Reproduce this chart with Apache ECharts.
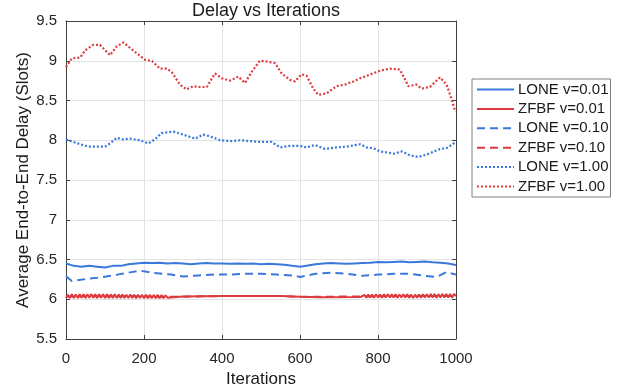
<!DOCTYPE html>
<html>
<head>
<meta charset="utf-8">
<script src="https://cdn.jsdelivr.net/npm/echarts@6/dist/echarts.min.js"></script>
<style>
  html, body { margin: 0; padding: 0; background: #fff; }
  #chart { width: 625px; height: 391px; }
</style>
</head>
<body>
<div id="chart"></div>
<script>
// iterations / values
const loneSolidIter = [0, 20, 40, 60, 80, 100, 120, 140, 160, 180, 200, 220, 240, 260, 280, 300, 320, 340, 360, 380, 400, 420, 440, 460, 480, 500, 520, 540, 560, 580, 600, 620, 640, 660, 680, 700, 720, 740, 760, 780, 800, 820, 840, 860, 880, 900, 920, 940, 960, 980, 1000];
const loneSolidVal = [6.45, 6.42, 6.41, 6.42, 6.41, 6.40, 6.42, 6.42, 6.44, 6.45, 6.46, 6.455, 6.46, 6.45, 6.455, 6.45, 6.44, 6.45, 6.455, 6.45, 6.45, 6.445, 6.45, 6.445, 6.45, 6.44, 6.445, 6.44, 6.435, 6.42, 6.41, 6.425, 6.44, 6.45, 6.455, 6.45, 6.445, 6.45, 6.455, 6.46, 6.47, 6.465, 6.47, 6.475, 6.465, 6.47, 6.475, 6.465, 6.46, 6.45, 6.43];

// ZFBF v=0.01 : wiggly at start and end, flat in the middle
const zfbfSolidStartVal = [6.015, 6.058, 6.015, 6.062, 6.017, 6.06, 6.015, 6.063, 6.018, 6.062,
  6.016, 6.064, 6.018, 6.065, 6.017, 6.063, 6.016, 6.062, 6.018, 6.064,
  6.016, 6.062, 6.015, 6.06, 6.016, 6.062, 6.015, 6.06, 6.016, 6.06,
  6.015, 6.058, 6.016, 6.06, 6.015, 6.058, 6.013, 6.057, 6.015, 6.058,
  6.013, 6.056, 6.014, 6.055, 6.012, 6.055, 6.013, 6.055, 6.012, 6.053,
  6.013, 6.05];
const zfbfSolidMidIter = [260, 300, 400, 550, 600, 650, 755];
const zfbfSolidMidVal = [6.02, 6.035, 6.04, 6.04, 6.03, 6.025, 6.027];
const zfbfSolidEndVal = [6.03, 6.055, 6.02, 6.06, 6.022, 6.06, 6.02, 6.062, 6.022, 6.06,
  6.02, 6.062, 6.022, 6.063, 6.021, 6.062, 6.022, 6.063, 6.02, 6.06,
  6.022, 6.063, 6.022, 6.062, 6.018, 6.058, 6.017, 6.058, 6.018, 6.06,
  6.02, 6.062, 6.022, 6.064, 6.021, 6.065, 6.022, 6.065, 6.02, 6.064,
  6.022, 6.065, 6.021, 6.067, 6.022, 6.065, 6.02, 6.067, 6.04];
const zigStep = 5;
const zigStartAt = 0;
const zigEndAt = 760;

const loneDashIter = [0, 15, 45, 80, 120, 155, 190, 225, 270, 300, 340, 380, 420, 460, 500, 540, 580, 600, 640, 680, 720, 760, 800, 840, 880, 920, 950, 975, 1000];
const loneDashVal = [6.29, 6.23, 6.25, 6.27, 6.30, 6.33, 6.36, 6.33, 6.31, 6.285, 6.30, 6.31, 6.31, 6.32, 6.32, 6.31, 6.30, 6.28, 6.32, 6.335, 6.32, 6.295, 6.31, 6.32, 6.32, 6.295, 6.28, 6.34, 6.31];

const zfbfDashIter = [0, 100, 200, 260, 400, 550, 600, 760, 900, 1000];
const zfbfDashVal = [6.035, 6.038, 6.036, 6.03, 6.04, 6.04, 6.03, 6.035, 6.04, 6.04];

const loneDotIter = [0, 36, 57, 79, 100, 113, 130, 147, 164, 190, 211, 228, 245, 275, 301, 331, 352, 369, 395, 425, 446, 472, 497, 527, 549, 574, 600, 617, 638, 664, 694, 720, 754, 771, 788, 805, 831, 840, 861, 882, 903, 925, 959, 976, 997, 1000];
const loneDotVal = [8.01, 7.95, 7.92, 7.92, 7.92, 7.96, 8.03, 8.01, 8.02, 8.0, 7.96, 8.01, 8.09, 8.11, 8.07, 8.02, 8.07, 8.05, 8.0, 7.99, 8.0, 7.99, 7.98, 7.98, 7.91, 7.93, 7.93, 7.91, 7.94, 7.89, 7.91, 7.92, 7.95, 7.91, 7.9, 7.86, 7.84, 7.83, 7.86, 7.81, 7.79, 7.82, 7.89, 7.9, 7.97, 7.98];

const zfbfDotIter = [0, 15, 36, 49, 70, 87, 113, 130, 147, 172, 203, 220, 241, 258, 271, 292, 309, 326, 344, 361, 382, 399, 421, 442, 459, 476, 497, 515, 536, 553, 574, 587, 604, 617, 634, 647, 668, 694, 715, 737, 754, 771, 792, 809, 831, 856, 878, 899, 912, 933, 959, 976, 989, 997, 1000];
const zfbfDotVal = [8.92, 9.03, 9.04, 9.13, 9.2, 9.2, 9.07, 9.18, 9.23, 9.13, 9.01, 9.0, 8.9, 8.9, 8.86, 8.7, 8.64, 8.68, 8.67, 8.67, 8.84, 8.78, 8.75, 8.8, 8.72, 8.86, 9.0, 8.99, 8.97, 8.84, 8.76, 8.74, 8.83, 8.81, 8.65, 8.57, 8.59, 8.68, 8.7, 8.74, 8.78, 8.81, 8.85, 8.88, 8.9, 8.89, 8.68, 8.7, 8.65, 8.67, 8.79, 8.7, 8.51, 8.38, 8.36];

const seriesNames = ['LONE v=0.01', 'ZFBF v=0.01', 'LONE v=0.10', 'ZFBF v=0.10', 'LONE v=1.00', 'ZFBF v=1.00'];
const xTicks = { min: 0, max: 1000, interval: 200 };
const yTicks = { min: 5.5, max: 9.5, interval: 0.5 };

const BLUE = '#3a78dc';
const RED = '#dc3a3e';
const FONT = '"Liberation Sans", Arial, sans-serif';

function pairs(xs, ys) { return xs.map((x, i) => [x, ys[i]]); }

const zfbfSolid = []
  .concat(zfbfSolidStartVal.map((v, i) => [zigStartAt + i * zigStep, v]))
  .concat(pairs(zfbfSolidMidIter, zfbfSolidMidVal))
  .concat(zfbfSolidEndVal.map((v, i) => [zigEndAt + i * zigStep, v]));

function line(name, data, color, type, width) {
  return {
    name, type: 'line', data, showSymbol: false, symbol: 'none', smooth: false,
    xAxisIndex: 0, yAxisIndex: 0,
    lineStyle: { color, width, type },
    itemStyle: { color },
    emphasis: { disabled: true },
    animation: false,
  };
}

const chart = echarts.init(document.getElementById('chart'));

const axisCommon = {
  axisLine: { show: true, onZero: false, lineStyle: { color: '#404040', width: 1 } },
  axisTick: { show: true, inside: true, length: 4, lineStyle: { color: '#404040' } },
};

chart.setOption({
  backgroundColor: '#fff',
  textStyle: { fontFamily: FONT },
  title: {
    text: 'Delay vs Iterations', left: 261, top: -3, textAlign: 'center',
    textStyle: { fontSize: 18, fontWeight: 'normal', color: '#1a1a1a', fontFamily: FONT },
  },
  grid: { left: 66, right: 169, top: 21, bottom: 52, containLabel: false, outerBoundsMode: 'none' },
  legend: {
    orient: 'vertical', left: 472, top: 79,
    data: seriesNames,
    itemWidth: 37, itemHeight: 12, itemGap: 4.4,
    padding: [3, 2, 3, 4],
    borderColor: '#808080', borderWidth: 1, backgroundColor: '#fff',
    itemStyle: { opacity: 0 },
    textStyle: { fontSize: 15, color: '#1a1a1a', fontFamily: FONT, padding: [0, 0, 0, -1] },
  },
  xAxis: [
    Object.assign({
      type: 'value', position: 'bottom', ...xTicks,
      name: 'Iterations', nameLocation: 'middle', nameGap: 32, nameMoveOverlap: false,
      nameTextStyle: { fontSize: 17, color: '#1a1a1a', fontFamily: FONT },
      axisLabel: { fontSize: 15, color: '#262626', margin: 12, fontFamily: FONT, formatter: (v) => String(v) },
      splitLine: { show: true, lineStyle: { color: '#e3e3e3' } },
    }, axisCommon),
    Object.assign({
      type: 'value', position: 'top', ...xTicks,
      axisLabel: { show: false }, splitLine: { show: false },
    }, axisCommon),
  ],
  yAxis: [
    Object.assign({
      type: 'value', position: 'left', ...yTicks,
      name: 'Average End-to-End Delay (Slots)', nameLocation: 'middle', nameGap: 34, nameMoveOverlap: false,
      nameTextStyle: { fontSize: 17, color: '#1a1a1a', fontFamily: FONT },
      axisLabel: { fontSize: 15, color: '#262626', margin: 9, fontFamily: FONT },
      splitLine: { show: true, lineStyle: { color: '#e3e3e3' } },
    }, axisCommon),
    Object.assign({
      type: 'value', position: 'right', ...yTicks,
      axisLabel: { show: false }, splitLine: { show: false },
    }, axisCommon),
  ],
  series: [
    line(seriesNames[3], pairs(zfbfDashIter, zfbfDashVal), RED, [8, 5], 2),
    line(seriesNames[0], pairs(loneSolidIter, loneSolidVal), BLUE, 'solid', 2),
    line(seriesNames[1], zfbfSolid, RED, 'solid', 2),
    line(seriesNames[2], pairs(loneDashIter, loneDashVal), BLUE, [8, 5], 2),
    line(seriesNames[4], pairs(loneDotIter, loneDotVal), BLUE, [2, 2], 2.2),
    line(seriesNames[5], pairs(zfbfDotIter, zfbfDotVal), RED, [2, 2], 2.2),
  ],
});
</script>
</body>
</html>
